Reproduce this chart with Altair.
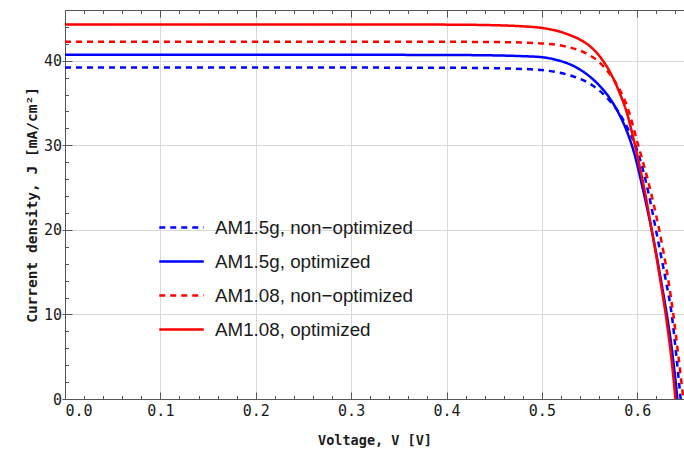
import altair as alt
import pandas as pd

# J-V curves of the cell under two spectra, before and after optimization
SERIES = [
    "AM1.5g, non\u2212optimized",
    "AM1.5g, optimized",
    "AM1.08, non\u2212optimized",
    "AM1.08, optimized",
]
COLORS = ["#0000ff", "#0000ff", "#ff0000", "#ff0000"]
DASHES = [[6, 5], [1, 0], [6, 5], [1, 0]]

# Voltage [V] and current density [mA/cm2] for each curve
V_15G_NON = [0.0, 0.1, 0.2, 0.3, 0.4, 0.45, 0.48, 0.50, 0.52, 0.53, 0.54, 0.55, 0.56,
             0.57, 0.58, 0.59, 0.598, 0.604, 0.6095, 0.6196, 0.6248, 0.630, 0.6361,
             0.6408, 0.6455]
J_15G_NON = [39.2, 39.2, 39.2, 39.19, 39.17, 39.12, 39.03, 38.9, 38.55, 38.25, 37.85,
             37.3, 36.5, 35.4, 34.0, 32.0, 30.0, 27.9, 25.5, 20.0, 17.0, 14.0, 10.0,
             5.3, 0.0]

V_15G_OPT = [0.0, 0.1, 0.2, 0.3, 0.4, 0.45, 0.48, 0.50, 0.52, 0.53, 0.54, 0.55, 0.56,
             0.57, 0.58, 0.59, 0.597, 0.6035, 0.6095, 0.6151, 0.6197, 0.6240, 0.6280,
             0.6318, 0.6352, 0.6383, 0.6405, 0.642]
J_15G_OPT = [40.7, 40.7, 40.7, 40.7, 40.68, 40.63, 40.54, 40.42, 39.95, 39.55, 38.95,
             38.15, 37.1, 35.75, 33.9, 31.4, 29.0, 26.0, 23.0, 20.0, 17.3, 14.6, 12.0,
             9.4, 6.8, 4.0, 1.8, 0.0]

V_108_NON = [0.0, 0.1, 0.2, 0.3, 0.4, 0.45, 0.48, 0.50, 0.52, 0.53, 0.54, 0.55, 0.56,
             0.57, 0.58, 0.59, 0.601, 0.612, 0.623, 0.6325, 0.6378, 0.643, 0.6483]
J_108_NON = [42.25, 42.25, 42.25, 42.25, 42.24, 42.21, 42.15, 42.05, 41.8, 41.55, 41.2,
             40.65, 39.85, 38.6, 36.9, 34.4, 30.0, 25.5, 20.0, 14.1, 10.0, 5.2, 0.0]

V_108_OPT = [0.0, 0.1, 0.2, 0.3, 0.4, 0.45, 0.48, 0.50, 0.52, 0.53, 0.54, 0.55, 0.56,
             0.57, 0.58, 0.59, 0.597, 0.6025, 0.6085, 0.6151, 0.6198, 0.6242, 0.6285,
             0.6325, 0.636, 0.640]
J_108_OPT = [44.3, 44.3, 44.3, 44.29, 44.27, 44.2, 44.07, 43.88, 43.4, 43.0, 42.5,
             41.75, 40.6, 38.95, 36.6, 33.5, 30.3, 27.5, 24.2, 20.0, 17.0, 14.0, 11.0,
             7.8, 4.6, 0.0]

# Axis tick positions
X_MAJOR = [0.0, 0.1, 0.2, 0.3, 0.4, 0.5, 0.6]
X_MINOR = [i / 50 for i in range(1, 33) if i % 5]
Y_MAJOR = [0, 10, 20, 30, 40]
Y_MINOR = [i for i in range(2, 46, 2) if i % 10]

rows = []
for name, vs, js in zip(
    SERIES,
    [V_15G_NON, V_15G_OPT, V_108_NON, V_108_OPT],
    [J_15G_NON, J_15G_OPT, J_108_NON, J_108_OPT],
):
    for v, j in zip(vs, js):
        rows.append({"series": name, "V": v, "J": j})
df = pd.DataFrame(rows)

W, H = 619, 389
MONO = "DejaVu Sans Mono"
AX = "#555555"
GRID = "#d9d9d9"
TXT = "#1a1a1a"

x_scale = alt.Scale(domain=[0, 0.649], nice=False, zero=False)
y_scale = alt.Scale(domain=[0, 46], nice=False)

legend = alt.Legend(
    title=None,
    orient="none",
    legendX=93,
    legendY=194,
    symbolType="stroke",
    symbolSize=1980,
    symbolStrokeWidth=2.5,
    labelFont="Liberation Sans",
    labelFontSize=18.8,
    labelColor=TXT,
    labelOffset=10,
    rowPadding=-5,
    padding=0,
    labelLimit=400,
)

curves = alt.Chart(df).mark_line(strokeWidth=2.5, interpolate="monotone").encode(
    x=alt.X(
        "V:Q",
        scale=x_scale,
        axis=alt.Axis(
            orient="bottom",
            values=X_MAJOR,
            format=".1f",
            tickSize=0,
            labelPadding=4,
            labelFont=MONO,
            labelFontSize=15,
            labelColor=TXT,
            grid=True,
            gridColor=GRID,
            domainColor=AX,
            title="Voltage, V [V]",
            titleFont=MONO,
            titleFontSize=13.5,
            titleFontWeight="bold",
            titleColor=TXT,
            titlePadding=15,
        ),
    ),
    y=alt.Y(
        "J:Q",
        scale=y_scale,
        axis=alt.Axis(
            orient="left",
            values=Y_MAJOR,
            tickSize=3,
            tickColor=AX,
            labelPadding=0.5,
            labelFont=MONO,
            labelFontSize=15,
            labelColor=TXT,
            grid=True,
            gridColor=GRID,
            domainColor=AX,
            title="Current density, J [mA/cm\u00b2]",
            titleFont=MONO,
            titleFontSize=14.5,
            titleFontWeight="bold",
            titleColor=TXT,
            titlePadding=4,
        ),
    ),
    color=alt.Color("series:N", scale=alt.Scale(domain=SERIES, range=COLORS), legend=legend),
    strokeDash=alt.StrokeDash("series:N", scale=alt.Scale(domain=SERIES, range=DASHES), legend=legend),
)

hidden = alt.Chart(df).mark_point(opacity=0, size=1)


def ticks_x(orient, values, size, domain=False):
    # inward ticks: an axis of the opposite side moved across the plot
    return alt.Axis(orient=orient, offset=-H, values=values, tickSize=size, tickColor=AX,
                    labels=False, domain=domain, domainColor=AX, grid=False, title=None)


def ticks_y(values, size):
    return alt.Axis(orient="right", offset=-W, values=values, tickSize=size, tickColor=AX,
                    labels=False, domain=False, grid=False, title=None)


layers = [curves]
for ax_x, ax_y in [
    (ticks_x("top", X_MAJOR, 7), ticks_y(Y_MAJOR, 7)),
    (ticks_x("top", X_MINOR, 3.5), ticks_y(Y_MINOR, 3.5)),
    (ticks_x("bottom", X_MAJOR, 7, domain=True), None),
    (ticks_x("bottom", X_MINOR, 3.5), None),
]:
    y_enc = alt.Y("J:Q", scale=y_scale, axis=ax_y)
    layers.append(hidden.encode(x=alt.X("V:Q", scale=x_scale, axis=ax_x), y=y_enc))

chart = (
    alt.layer(*layers)
    .resolve_axis(x="independent", y="independent")
    .properties(
        width=W,
        height=H,
        padding={"left": 65, "top": 10, "right": 0, "bottom": 54},
        autosize=alt.AutoSizeParams(type="none"),
        background="white",
    )
    .configure_view(stroke=None)
)

chart.save("out.html", embed_options={"renderer": "svg", "actions": False})
